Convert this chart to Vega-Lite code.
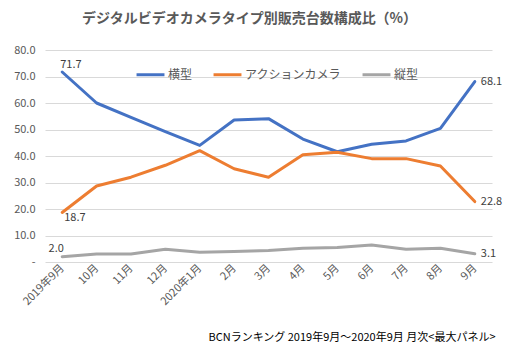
{
  "$schema": "https://vega.github.io/schema/vega-lite/v6.json",
  "width": 447,
  "height": 212,
  "autosize": {"type": "none"},
  "padding": {"left": 45, "top": 50, "right": 18, "bottom": 88},
  "background": "white",
  "config": {
    "font": "Noto Sans CJK JP",
    "view": {"stroke": null}
  },
  "title": {
    "text": "デジタルビデオカメラタイプ別販売台数構成比（%）",
    "fontSize": 14,
    "fontWeight": "bold",
    "color": "#595959",
    "anchor": "middle",
    "dx": -19,
    "offset": 18
  },
  "data": {
    "values": [
      {"month": "2019年9月", "series": "横型", "value": 71.7},
      {"month": "10月", "series": "横型", "value": 60.0},
      {"month": "11月", "series": "横型", "value": 54.6},
      {"month": "12月", "series": "横型", "value": 49.2},
      {"month": "2020年1月", "series": "横型", "value": 44.0},
      {"month": "2月", "series": "横型", "value": 53.6},
      {"month": "3月", "series": "横型", "value": 54.1},
      {"month": "4月", "series": "横型", "value": 46.4},
      {"month": "5月", "series": "横型", "value": 41.6},
      {"month": "6月", "series": "横型", "value": 44.4},
      {"month": "7月", "series": "横型", "value": 45.7},
      {"month": "8月", "series": "横型", "value": 50.4},
      {"month": "9月", "series": "横型", "value": 68.1},
      {"month": "2019年9月", "series": "アクションカメラ", "value": 18.7},
      {"month": "10月", "series": "アクションカメラ", "value": 28.7},
      {"month": "11月", "series": "アクションカメラ", "value": 32.0},
      {"month": "12月", "series": "アクションカメラ", "value": 36.5},
      {"month": "2020年1月", "series": "アクションカメラ", "value": 42.0},
      {"month": "2月", "series": "アクションカメラ", "value": 35.2},
      {"month": "3月", "series": "アクションカメラ", "value": 32.0},
      {"month": "4月", "series": "アクションカメラ", "value": 40.5},
      {"month": "5月", "series": "アクションカメラ", "value": 41.4},
      {"month": "6月", "series": "アクションカメラ", "value": 39.0},
      {"month": "7月", "series": "アクションカメラ", "value": 39.0},
      {"month": "8月", "series": "アクションカメラ", "value": 36.2},
      {"month": "9月", "series": "アクションカメラ", "value": 22.8},
      {"month": "2019年9月", "series": "縦型", "value": 2.0},
      {"month": "10月", "series": "縦型", "value": 3.0},
      {"month": "11月", "series": "縦型", "value": 3.0},
      {"month": "12月", "series": "縦型", "value": 4.8},
      {"month": "2020年1月", "series": "縦型", "value": 3.7},
      {"month": "2月", "series": "縦型", "value": 4.0},
      {"month": "3月", "series": "縦型", "value": 4.3},
      {"month": "4月", "series": "縦型", "value": 5.2},
      {"month": "5月", "series": "縦型", "value": 5.5},
      {"month": "6月", "series": "縦型", "value": 6.4},
      {"month": "7月", "series": "縦型", "value": 4.8},
      {"month": "8月", "series": "縦型", "value": 5.2},
      {"month": "9月", "series": "縦型", "value": 3.1}
    ]
  },
  "encoding": {
    "x": {
      "field": "month",
      "type": "ordinal",
      "sort": ["2019年9月", "10月", "11月", "12月", "2020年1月", "2月", "3月", "4月", "5月", "6月", "7月", "8月", "9月"],
      "scale": {"type": "point", "padding": 0.5},
      "axis": {
        "title": "BCNランキング 2019年9月～2020年9月 月次<最大パネル>",
        "titleFontSize": 11,
        "titleFontWeight": "normal",
        "titleColor": "#000000",
        "titleAlign": "right",
        "titleAnchor": null,
        "titleX": 450,
        "titleY": 75,
        "titleBaseline": "middle",
        "labelAngle": -45,
        "labelAlign": "right",
        "labelBaseline": "middle",
        "labelFontSize": 11,
        "labelColor": "#595959",
        "labelPadding": 4,
        "ticks": false,
        "domain": false,
        "grid": false
      }
    },
    "y": {
      "field": "value",
      "type": "quantitative",
      "scale": {"domain": [0, 80]},
      "axis": {
        "title": null,
        "values": [0, 10, 20, 30, 40, 50, 60, 70, 80],
        "labelExpr": "datum.value == 0 ? '-' : format(datum.value, '.1f')",
        "labelFontSize": 11,
        "labelColor": "#595959",
        "labelPadding": 10,
        "ticks": false,
        "domain": false,
        "gridColor": "#d9d9d9",
        "gridWidth": 1
      }
    }
  },
  "layer": [
    {
      "mark": {"type": "line", "strokeWidth": 3, "strokeCap": "round", "strokeJoin": "round"},
      "encoding": {
        "color": {
          "field": "series",
          "type": "nominal",
          "scale": {"domain": ["横型", "アクションカメラ", "縦型"], "range": ["#4472C4", "#ED7D31", "#A5A5A5"]},
          "legend": {
            "title": null,
            "orient": "none",
            "direction": "horizontal",
            "legendX": 90,
            "legendY": 9,
            "symbolType": "stroke",
            "symbolStrokeWidth": 3,
            "symbolSize": 780,
            "labelFontSize": 12,
            "labelColor": "#595959",
            "columnPadding": 14,
            "labelOffset": 2
          }
        }
      }
    },
    {
      "transform": [{"filter": "datum.month == '2019年9月' && datum.series == '横型'"}],
      "mark": {"type": "text", "align": "left", "dx": -2, "dy": -7, "fontSize": 11, "color": "#404040"},
      "encoding": {"text": {"field": "value", "type": "quantitative", "format": ".1f"}}
    },
    {
      "transform": [{"filter": "datum.month == '2019年9月' && datum.series == 'アクションカメラ'"}],
      "mark": {"type": "text", "align": "left", "dx": 2, "dy": 6, "fontSize": 11, "color": "#404040"},
      "encoding": {"text": {"field": "value", "type": "quantitative", "format": ".1f"}}
    },
    {
      "transform": [{"filter": "datum.month == '2019年9月' && datum.series == '縦型'"}],
      "mark": {"type": "text", "align": "center", "dx": -6, "dy": -8, "fontSize": 11, "color": "#404040"},
      "encoding": {"text": {"field": "value", "type": "quantitative", "format": ".1f"}}
    },
    {
      "transform": [{"filter": "datum.month == '9月'"}],
      "mark": {"type": "text", "align": "left", "dx": 6, "dy": 0, "fontSize": 11, "color": "#404040"},
      "encoding": {"text": {"field": "value", "type": "quantitative", "format": ".1f"}}
    }
  ]
}
